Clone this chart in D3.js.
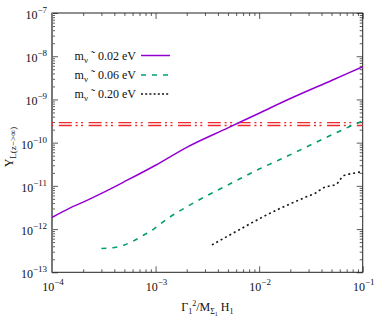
<!DOCTYPE html>
<html>
<head>
<meta charset="utf-8">
<script src="https://cdn.jsdelivr.net/npm/d3@7"></script>
<style>
  body { margin: 0; background: #fff; }
  svg { display: block; }
  text { font-family: "Liberation Serif", "DejaVu Serif", serif; }
</style>
</head>
<body>
<div id="chart"></div>
<script>
// data
var aPurpleX = [1e-4, 1.5e-4, 2e-4, 3e-4, 5e-4, 1e-3, 2e-3, 5e-3, 1e-2, 2e-2, 5e-2, 1e-1];
var aPurpleY = [1.86e-12, 3.1e-12, 4.2e-12, 6.7e-12, 1.25e-11, 3.0e-11, 7.8e-11, 2.2e-10, 4.8e-10, 1.05e-9, 2.75e-9, 5.7e-9];

var aGreenX = [3.0e-4, 4.0e-4, 5.0e-4, 6.2e-4, 7.7e-4, 9.6e-4, 1.15e-3, 2.7e-3, 5.2e-3, 1.0e-2, 1.55e-2, 4.75e-2, 7.4e-2, 1e-1];
var aGreenY = [3.55e-13, 3.75e-13, 4.3e-13, 5.4e-13, 7.3e-13, 1.0e-12, 1.4e-12, 4.9e-12, 1.1e-11, 2.45e-11, 3.95e-11, 1.42e-10, 2.33e-10, 3.2e-10];

var aBlackX = [3.5e-3, 6.5e-3, 1.02e-2, 1.59e-2, 2.22e-2, 2.77e-2, 3.46e-2, 4.16e-2, 5.6e-2, 6.0e-2, 6.5e-2, 8.1e-2, 1e-1];
var aBlackY = [4.3e-13, 9.8e-13, 1.77e-12, 3.0e-12, 4.3e-12, 5.4e-12, 6.7e-12, 9.0e-12, 1.1e-11, 1.36e-11, 1.7e-11, 1.95e-11, 2.15e-11];

var aRedLevels = [2.9e-10, 2.5e-10];

var aLegendLabels = ["0.02 eV", "0.06 eV", "0.20 eV"];
var aXExponents = [-4, -3, -2, -1];
var aYExponents = [-13, -12, -11, -10, -9, -8, -7];

var VIEWBOX = [0, 0, 382, 327];
var MARGIN = {top: 13, right: 19.3, bottom: 54.7, left: 52};
var FONT = "Liberation Serif";

var oSvg = d3.select("#chart").append("svg")
  .attr("width", VIEWBOX[2]).attr("height", VIEWBOX[3])
  .attr("viewBox", VIEWBOX.join(" "))
  .attr("font-family", FONT);

var x = d3.scaleLog().domain([1e-4, 1e-1]).range([MARGIN.left, VIEWBOX[2] - MARGIN.right]);
var y = d3.scaleLog().domain([1e-13, 1e-7]).range([VIEWBOX[3] - MARGIN.bottom, MARGIN.top]);

function zip(aX, aY) {
  return aX.map(function(v, i) { return {x: v, y: aY[i]}; });
}

function minors(aExp) {
  var a = [];
  for (var i = 0; i < aExp.length - 1; i++) {
    for (var k = 2; k <= 9; k++) a.push(k * Math.pow(10, aExp[i]));
  }
  return a;
}

var aXMajor = aXExponents.map(function(e) { return Math.pow(10, e); });
var aYMajor = aYExponents.map(function(e) { return Math.pow(10, e); });

var x0 = x.range()[0], x1 = x.range()[1], y0 = y.range()[0], y1 = y.range()[1];

// ticks (inward, mirrored)
function addAxis(axis, tx, ty) {
  oSvg.append("g").attr("transform", "translate(" + tx + "," + ty + ")")
    .call(axis)
    .call(function(g) {
      g.select(".domain").remove();
      g.selectAll("line").attr("stroke", "#333").attr("stroke-width", 0.8);
    });
}
addAxis(d3.axisBottom(x).tickValues(aXMajor).tickSize(-6).tickFormat(""), 0, y0);
addAxis(d3.axisBottom(x).tickValues(minors(aXExponents)).tickSize(-3).tickFormat(""), 0, y0);
addAxis(d3.axisTop(x).tickValues(aXMajor).tickSize(-6).tickFormat(""), 0, y1);
addAxis(d3.axisTop(x).tickValues(minors(aXExponents)).tickSize(-3).tickFormat(""), 0, y1);
addAxis(d3.axisLeft(y).tickValues(aYMajor).tickSize(-6).tickFormat(""), x0, 0);
addAxis(d3.axisLeft(y).tickValues(minors(aYExponents)).tickSize(-3).tickFormat(""), x0, 0);
addAxis(d3.axisRight(y).tickValues(aYMajor).tickSize(-6).tickFormat(""), x1, 0);
addAxis(d3.axisRight(y).tickValues(minors(aYExponents)).tickSize(-3).tickFormat(""), x1, 0);

// frame
oSvg.append("rect")
  .attr("x", x0).attr("y", y1).attr("width", x1 - x0).attr("height", y0 - y1)
  .attr("fill", "none").attr("stroke", "#222").attr("stroke-width", 1);
oSvg.append("line")
  .attr("x1", x0).attr("x2", x0).attr("y1", y1).attr("y2", y0)
  .attr("stroke", "#777").attr("stroke-width", 2);

// tick labels
function powerLabel(sel, e) {
  sel.append("tspan").text("10");
  sel.append("tspan").attr("dy", -6).attr("font-size", 9).text("\u2212" + Math.abs(e));
}
aXExponents.forEach(function(e) {
  oSvg.append("text")
    .attr("x", x(Math.pow(10, e)) + 1).attr("y", 291)
    .attr("text-anchor", "middle").attr("font-size", 12).attr("fill", "#111")
    .call(powerLabel, e);
});
aYExponents.forEach(function(e) {
  oSvg.append("text")
    .attr("x", 47).attr("y", y(Math.pow(10, e)) + 6)
    .attr("text-anchor", "end").attr("font-size", 12).attr("fill", "#111")
    .call(powerLabel, e);
});

// axis titles
var oXTitle = oSvg.append("text")
  .attr("x", (x0 + x1) / 2).attr("y", 311)
  .attr("text-anchor", "middle").attr("font-size", 12).attr("fill", "#111");
oXTitle.append("tspan").text("\u0393");
oXTitle.append("tspan").attr("dy", 3).attr("font-size", 8).text("1");
oXTitle.append("tspan").attr("dy", -8).attr("font-size", 8).text("2");
oXTitle.append("tspan").attr("dy", 5).text("/M");
oXTitle.append("tspan").attr("dy", 3).attr("font-size", 8).text("\u03a3");
oXTitle.append("tspan").attr("dy", 2).attr("font-size", 6).text("1");
oXTitle.append("tspan").attr("dy", -5).text(" H");
oXTitle.append("tspan").attr("dy", 3).attr("font-size", 8).text("1");

var oYTitle = oSvg.append("text")
  .attr("transform", "translate(13,147) rotate(-90)")
  .attr("text-anchor", "middle").attr("font-size", 12).attr("fill", "#111");
oYTitle.append("tspan").text("Y");
oYTitle.append("tspan").attr("dy", 3).attr("font-size", 9).text("L(z\u2212>\u221e)");

// clip to plot
oSvg.append("clipPath").attr("id", "plotClip").append("rect")
  .attr("x", x0).attr("y", y1).attr("width", x1 - x0).attr("height", y0 - y1);
var g = oSvg.append("g").attr("clip-path", "url(#plotClip)");

// constant red lines
aRedLevels.forEach(function(v) {
  g.append("line")
    .attr("x1", x0).attr("x2", x1).attr("y1", y(v)).attr("y2", y(v))
    .attr("stroke", "#f02a2a").attr("stroke-width", 1.4)
    .attr("stroke-dasharray", "13,3.8,2,3.5,2,5.5")
    .attr("stroke-dashoffset", 23);
});

var line = d3.line()
  .x(function(d) { return x(d.x); })
  .y(function(d) { return y(d.y); })
  .curve(d3.curveMonotoneX);

var aSeries = [
  {data: zip(aPurpleX, aPurpleY), color: "#9400d3", dash: null, legendDash: null, width: 1.5},
  {data: zip(aGreenX, aGreenY), color: "#009e73", dash: "5,6", legendDash: "5,6", width: 1.6},
  {data: zip(aBlackX, aBlackY), color: "#111", dash: "2,3", legendDash: "2,2.2", width: 1.6}
];

g.selectAll(".series")
  .data(aSeries)
  .enter().append("path")
  .attr("class", "series")
  .attr("d", function(d) { return line(d.data); })
  .attr("fill", "none")
  .attr("stroke", function(d) { return d.color; })
  .attr("stroke-width", function(d) { return d.width; })
  .attr("stroke-dasharray", function(d) { return d.dash; });

// legend
var aLegendY = [55.5, 75, 94];
aSeries.forEach(function(s, i) {
  var ly = aLegendY[i];
  var t = oSvg.append("text")
    .attr("x", 136).attr("y", ly + 4)
    .attr("text-anchor", "end").attr("font-size", 12).attr("fill", "#111");
  t.append("tspan").text("m");
  t.append("tspan").attr("dy", 3).attr("font-size", 9).text("\u03bd");
  t.append("tspan").attr("dy", -3).text(" \u02dc ");
  t.append("tspan").text(aLegendLabels[i]);
  oSvg.append("line")
    .attr("x1", 141).attr("x2", 170).attr("y1", ly).attr("y2", ly)
    .attr("stroke", s.color).attr("stroke-width", s.width)
    .attr("stroke-dasharray", s.legendDash);
});
</script>
</body>
</html>
